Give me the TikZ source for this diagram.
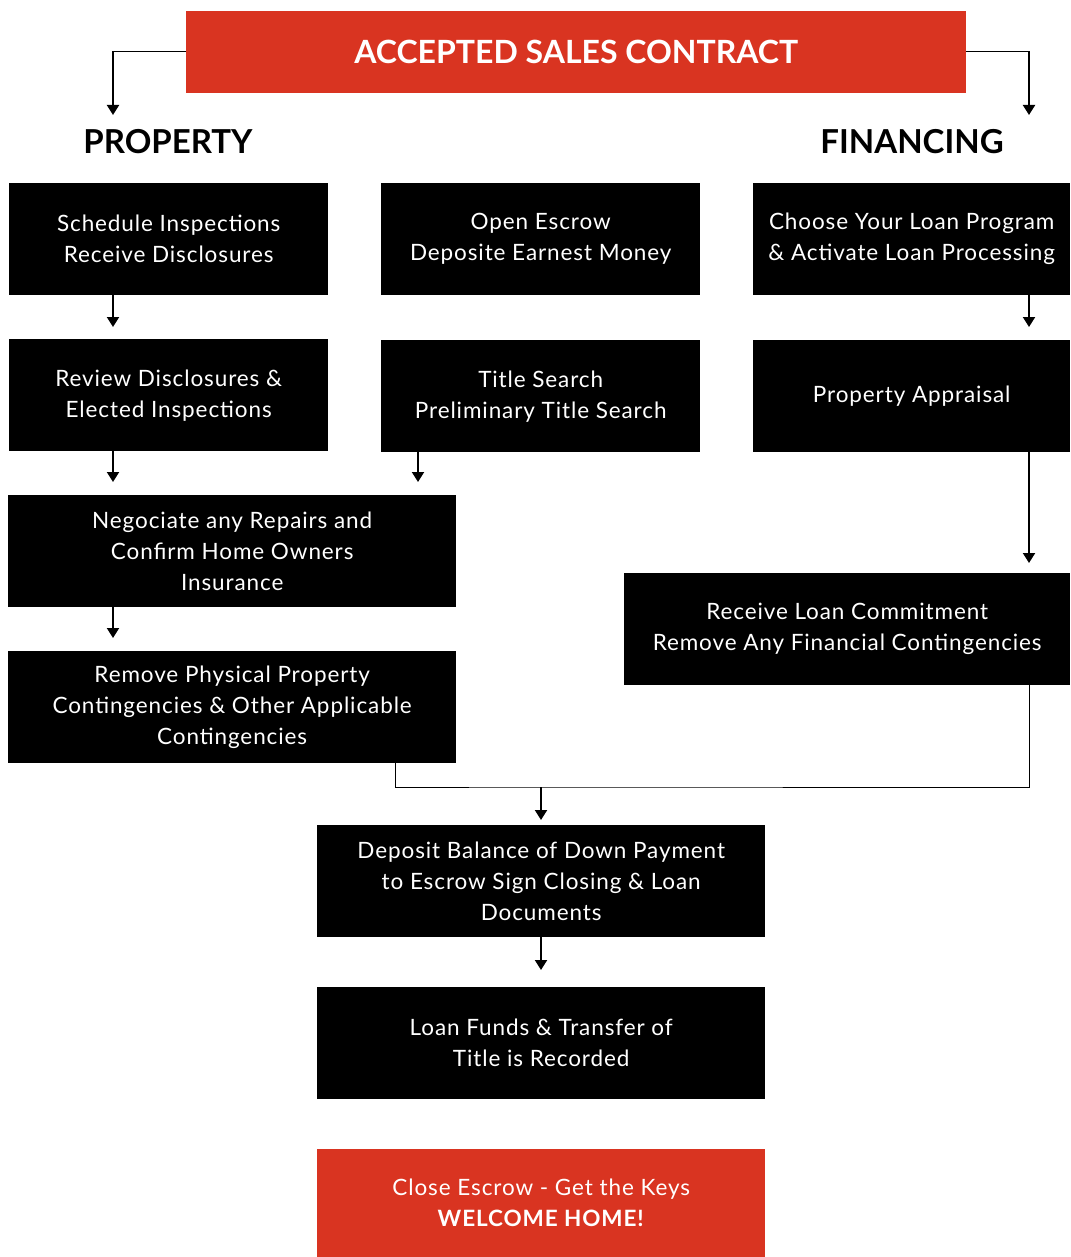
\documentclass[tikz,border=0pt]{standalone}
\usepackage{fontspec}
\setmainfont{Lato}
\newfontfamily\widefont[LetterSpace=4]{Lato}
\usepackage{tikz}
\usetikzlibrary{positioning,arrows.meta,calc}
\definecolor{escrowred}{HTML}{D93421}

\begin{document}
\begin{tikzpicture}[x=1pt,y=-1pt,
    stepbox/.style={fill=black, text=white, inner sep=0pt, align=center,
        minimum height=112pt, anchor=north west,
        font=\widefont\fontsize{22.5}{31}\selectfont},
    redbox/.style={stepbox, fill=escrowred},
    head/.style={font=\fontsize{33}{36}\selectfont\bfseries},
    link/.style={-{Triangle[width=12pt,length=10pt]}, line width=2pt, shorten >=1pt},
    thin/.style={line width=1pt}]
    \useasboundingbox (0,0) rectangle (1070,1257);

    % top
    \node[redbox, minimum width=780pt, minimum height=82pt, font=\fontsize{32}{34}\selectfont\bfseries]
        (contract) at (186,11) {ACCEPTED SALES CONTRACT};
    \node[head] (property) at (168,142) {PROPERTY};
    \node[head] (financing) at (912,142) {FINANCING};
    \coordinate (propin) at (113,116);
    \coordinate (finin) at (1029,116);

    % columns
    \node[stepbox, minimum width=319pt] (inspect) at (9,183) {Schedule Inspections\\Receive Disclosures};
    \node[stepbox, minimum width=319pt] (escrow) at (381,183) {Open Escrow\\Deposite Earnest Money};
    \node[stepbox, minimum width=317pt] (loanprog) at (753,183) {Choose Your Loan Program\\\& Activate Loan Processing};
    \node[stepbox, minimum width=319pt] (review) at (9,339) {Review Disclosures \&\\Elected Inspections};
    \node[stepbox, minimum width=319pt] (title) at (381,340) {Title Search\\Preliminary Title Search};
    \node[stepbox, minimum width=317pt] (appraisal) at (753,340) {Property Appraisal};
    \node[stepbox, minimum width=448pt] (repairs) at (8,495) {Negociate any Repairs and\\Confirm Home Owners\\Insurance};
    \node[stepbox, minimum width=448pt] (contingency) at (8,651) {Remove Physical Property\\Contingencies \& Other Applicable\\Contingencies};
    \node[stepbox, minimum width=446pt] (commit) at (624,573) {Receive Loan Commitment\\Remove Any Financial Contingencies};
    \node[stepbox, minimum width=448pt] (deposit) at (317,825) {Deposit Balance of Down Payment\\to Escrow Sign Closing \& Loan\\Documents};
    \node[stepbox, minimum width=448pt] (funds) at (317,987) {Loan Funds \& Transfer of\\Title is Recorded};
    \node[redbox, minimum width=448pt, minimum height=108pt] (close) at (317,1149)
        {Close Escrow - Get the Keys\\\textbf{WELCOME HOME!}};

    % connectors
    \draw[thin] (contract.west |- 0,52) -| (113,52);
    \draw[link] (113,51.5) -- (propin);
    \draw[thin] (contract.east |- 0,52) -| (1029,52);
    \draw[link] (1029,51.5) -- (finin);

    \draw[link] (113,295) -- (113,328);
    \draw[link] (1029,295) -- (1029,328);
    \draw[link] (113,451) -- (113,483);
    \draw[link] (418,452) -- (418,483);
    \draw[link] (1029,452) -- (1029,564);
    \draw[link] (113,607) -- (113,639);

    \coordinate (join) at (541,787);
    \draw[thin] (395,763) |- (join) -| (1029,685);
    \draw[link] (join) -- (541,821);
    \draw[link] (541,937) -- (541,971);
\end{tikzpicture}
\end{document}
